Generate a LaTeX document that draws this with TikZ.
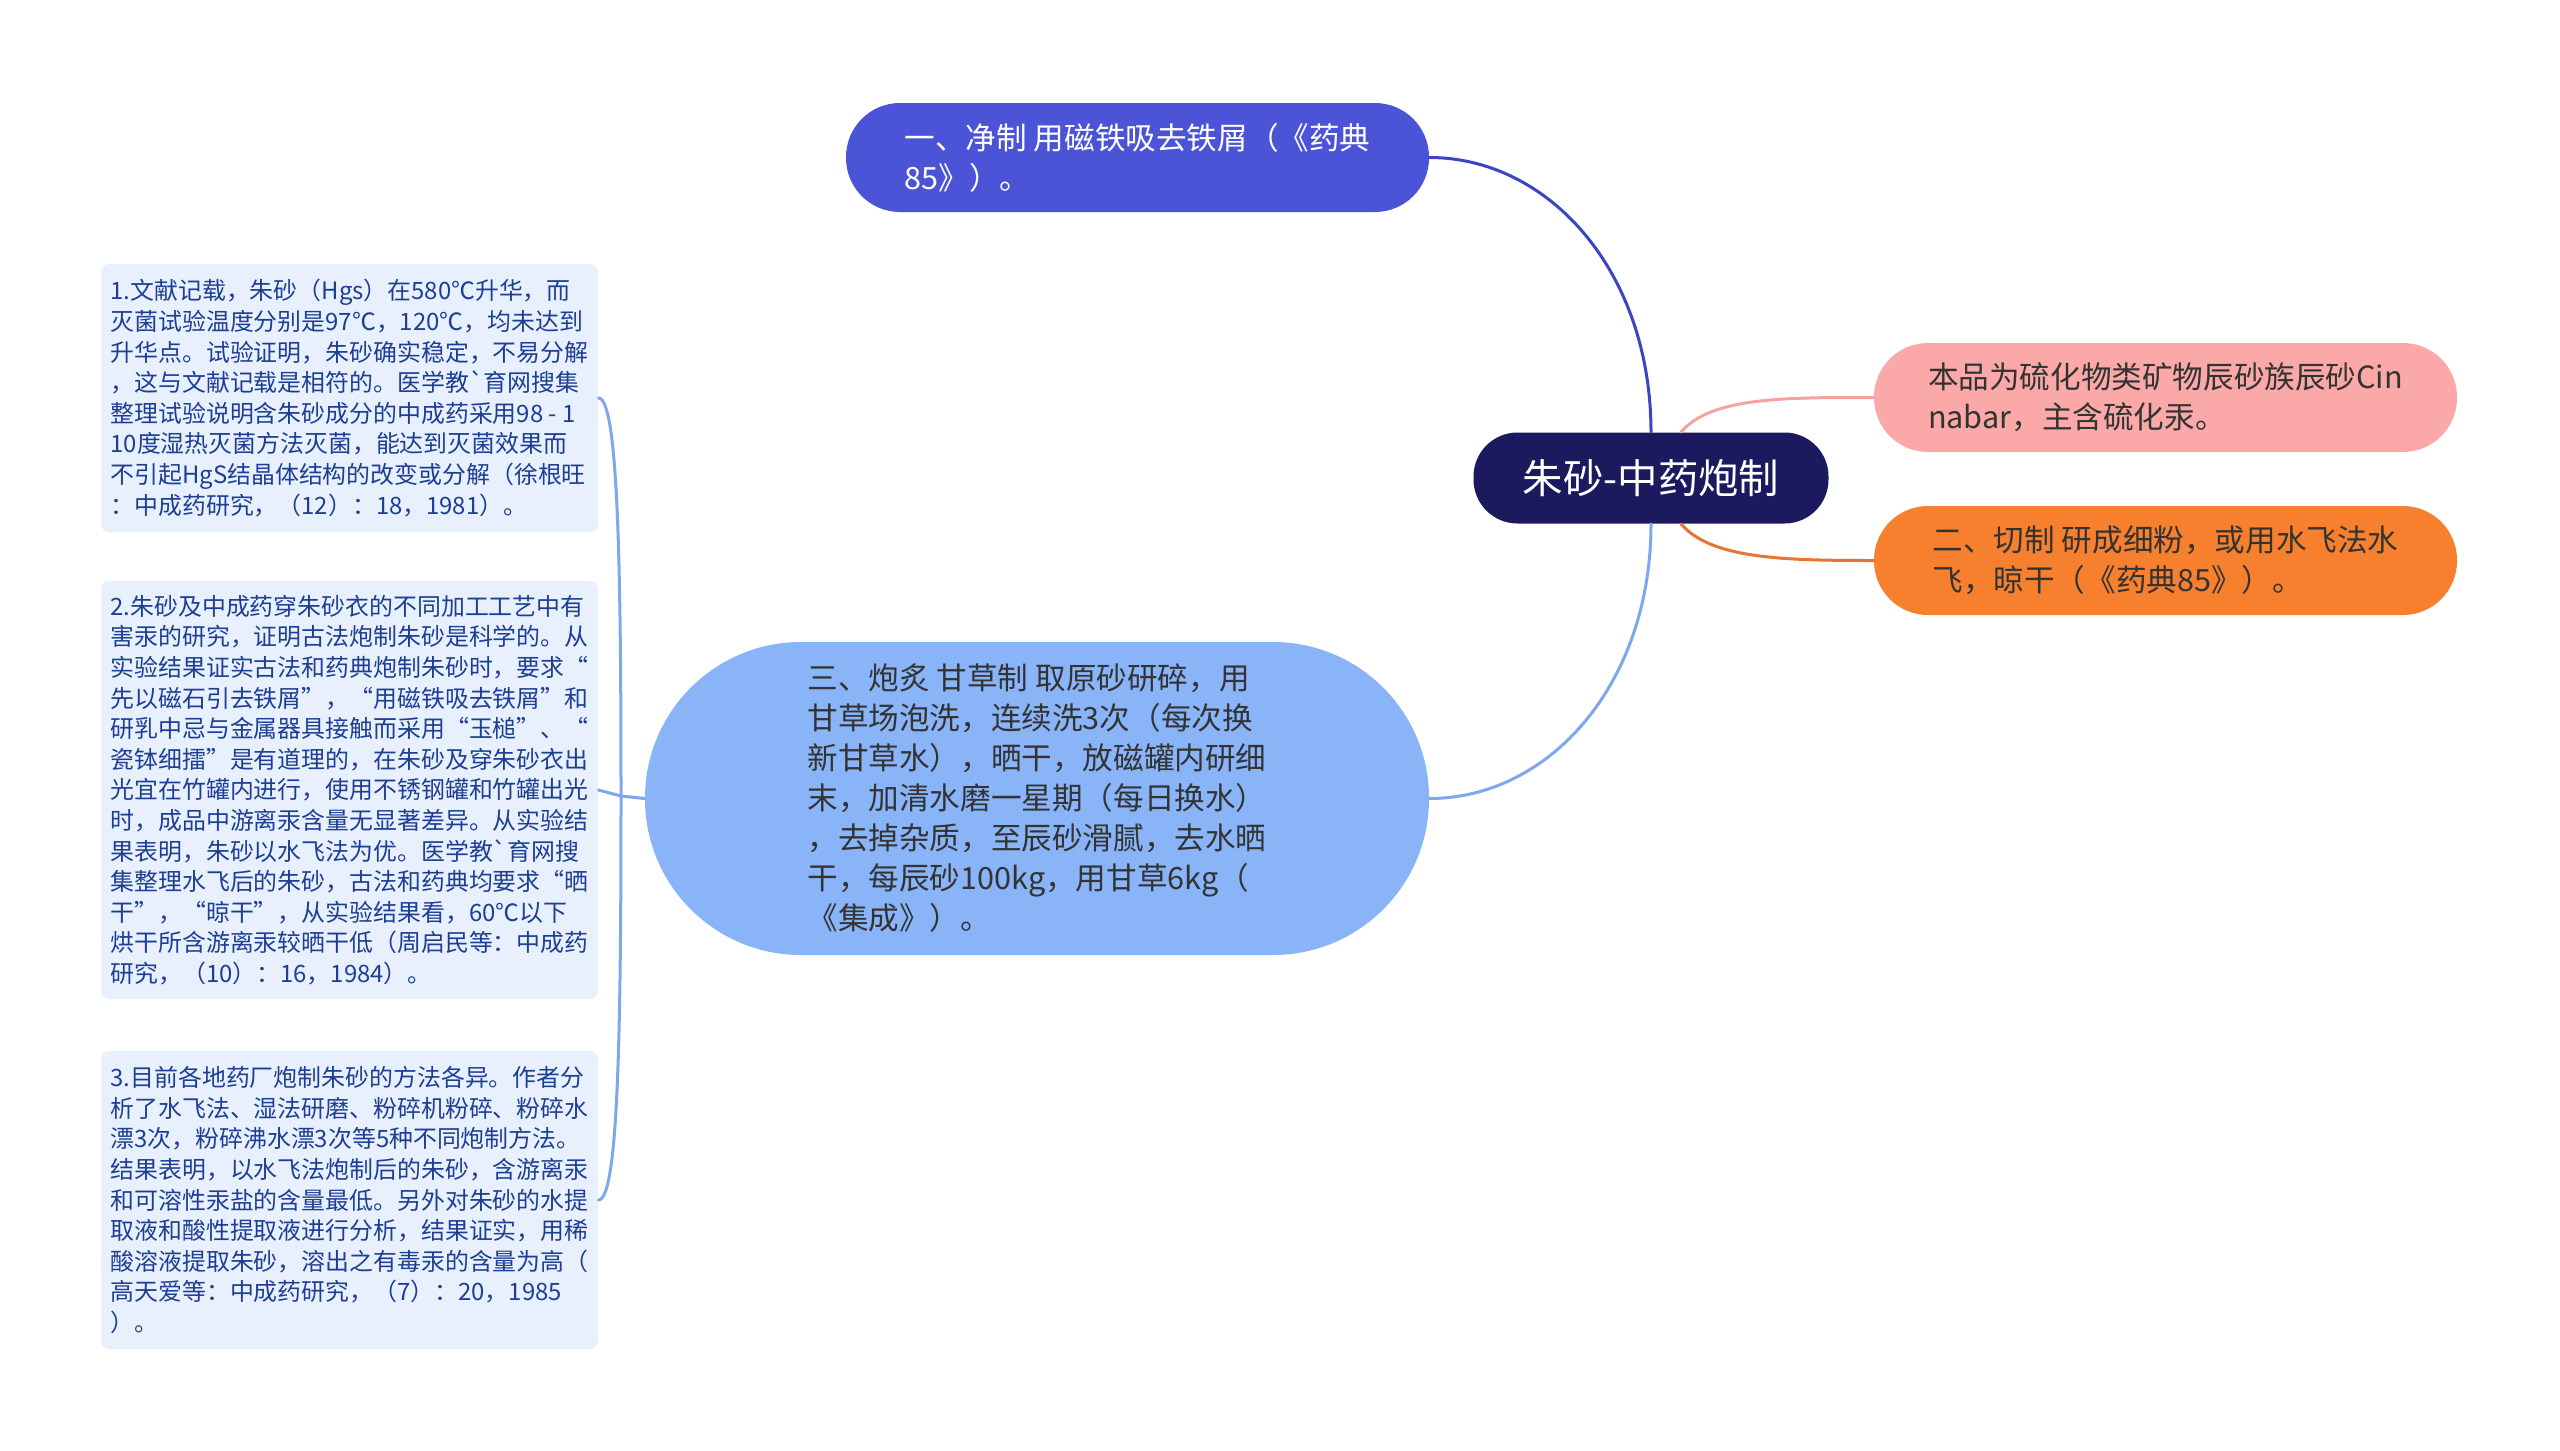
\documentclass[tikz,border=0pt]{standalone}
\usepackage{fontspec}
\setmainfont{Noto Sans CJK SC}
\usepackage{tikz}
\usepackage{xcolor}

\definecolor{rootnavy}{HTML}{1C1A5E}
\definecolor{bluea}{HTML}{4B53D6}
\definecolor{bluealine}{HTML}{3B45C2}
\definecolor{pinkb}{HTML}{FAA9A8}
\definecolor{pinkline}{HTML}{F4A3A0}
\definecolor{orangec}{HTML}{F7802F}
\definecolor{orangeline}{HTML}{E57530}
\definecolor{skyd}{HTML}{8AB4F8}
\definecolor{skyline}{HTML}{7EA7EE}
\definecolor{notefill}{HTML}{E9F0FD}
\definecolor{notetext}{HTML}{1D3F93}
\definecolor{darktext}{HTML}{333333}

\begin{document}
\begin{tikzpicture}[x=0.5pt,y=-0.5pt,line cap=round,
  topic/.style={fill=rootnavy,text=white,rounded corners=22pt,minimum width=177.5pt,
    minimum height=45.5pt,font=\fontsize{20.2}{24}\selectfont},
  branch/.style={rounded corners=27pt,minimum width=291.5pt,minimum height=54.5pt,
    align=left,inner sep=0pt,font=\fontsize{15.3}{20}\selectfont},
  note/.style={fill=notefill,text=notetext,rounded corners=4pt,minimum width=248.5pt,
    align=left,inner sep=0pt,font=\fontsize{11.95}{15.3}\selectfont},
  link/.style={line width=1.5pt}]
\fill[white] (0,0) rectangle (2560,1451);
\useasboundingbox (0,0) rectangle (2560,1451);

% central topic and its branches
\node[topic] (root) at (1651,478) {朱砂-中药炮制};
\node[branch,fill=bluea,text=white] (jing) at (1137.5,157.5)
  {一、净制 用磁铁吸去铁屑（《药典\\85》）。};
\node[branch,fill=pinkb,text=darktext] (ben) at (2165.5,397.5)
  {本品为硫化物类矿物辰砂族辰砂Cin\\nabar，主含硫化汞。};
\node[branch,fill=orangec,text=darktext] (qie) at (2165.5,560.5)
  {二、切制 研成细粉，或用水飞法水\\飞，晾干（《药典85》）。};
\node[branch,fill=skyd,text=darktext,rounded corners=78pt,minimum width=392pt,
  minimum height=156.5pt] (pao) at (1037,798.5)
  {三、炮炙 甘草制 取原砂研碎，用\\
   甘草场泡洗，连续洗3次（每次换\\
   新甘草水），晒干，放磁罐内研细\\
   末，加清水磨一星期（每日换水）\\
   ，去掉杂质，至辰砂滑腻，去水晒\\
   干，每辰砂100kg，用甘草6kg（\\
   《集成》）。};

% notes on the left
\node[note,minimum height=134pt] (wen) at (349.5,398)
  {1.文献记载，朱砂（Hgs）在580℃升华，而\\
   灭菌试验温度分别是97℃，120℃，均未达到\\
   升华点。试验证明，朱砂确实稳定，不易分解\\
   ，这与文献记载是相符的。医学教\textasciigrave 育网搜集\\
   整理试验说明含朱砂成分的中成药采用98 - 1\\
   10度湿热灭菌方法灭菌，能达到灭菌效果而\\
   不引起HgS结晶体结构的改变或分解（徐根旺\\
   ：中成药研究，（12）：18，1981）。};
\node[note,minimum height=209pt] (gufa) at (349.5,790)
  {2.朱砂及中成药穿朱砂衣的不同加工工艺中有\\
   害汞的研究，证明古法炮制朱砂是科学的。从\\
   实验结果证实古法和药典炮制朱砂时，要求“\\
   先以磁石引去铁屑”，“用磁铁吸去铁屑”和\\
   研乳中忌与金属器具接触而采用“玉槌”、“\\
   瓷钵细擂”是有道理的，在朱砂及穿朱砂衣出\\
   光宜在竹罐内进行，使用不锈钢罐和竹罐出光\\
   时，成品中游离汞含量无显著差异。从实验结\\
   果表明，朱砂以水飞法为优。医学教\textasciigrave 育网搜\\
   集整理水飞后的朱砂，古法和药典均要求“晒\\
   干”，“晾干”，从实验结果看，60℃以下\\
   烘干所含游离汞较晒干低（周启民等：中成药\\
   研究，（10）：16，1984）。};
\node[note,minimum height=149pt] (chang) at (349.5,1200)
  {3.目前各地药厂炮制朱砂的方法各异。作者分\\
   析了水飞法、湿法研磨、粉碎机粉碎、粉碎水\\
   漂3次，粉碎沸水漂3次等5种不同炮制方法。\\
   结果表明，以水飞法炮制后的朱砂，含游离汞\\
   和可溶性汞盐的含量最低。另外对朱砂的水提\\
   取液和酸性提取液进行分析，结果证实，用稀\\
   酸溶液提取朱砂，溶出之有毒汞的含量为高（\\
   高天爱等：中成药研究，（7）：20，1985\\
   ）。};

% connectors
\draw[link,bluealine] (root.north) .. controls +(0,-160) and +(120,0) .. (jing.east);
\draw[link,pinkline] ([xshift=15pt]root.north) .. controls +(30,-35) and +(-90,0) .. (ben.west);
\draw[link,orangeline] ([xshift=15pt]root.south) .. controls +(30,35) and +(-90,0) .. (qie.west);
\draw[link,skyline] (root.south) .. controls +(0,160) and +(120,0) .. (pao.east);

\coordinate (fork) at (621,796);
\draw[link,skyline] (pao.west) -- (fork);
\draw[link,skyline] (fork) -- (gufa.east);
\draw[link,skyline] (fork) .. controls (621,560) and (618,398) .. (wen.east);
\draw[link,skyline] (fork) .. controls (621,1040) and (618,1200) .. (chang.east);
\end{tikzpicture}
\end{document}
